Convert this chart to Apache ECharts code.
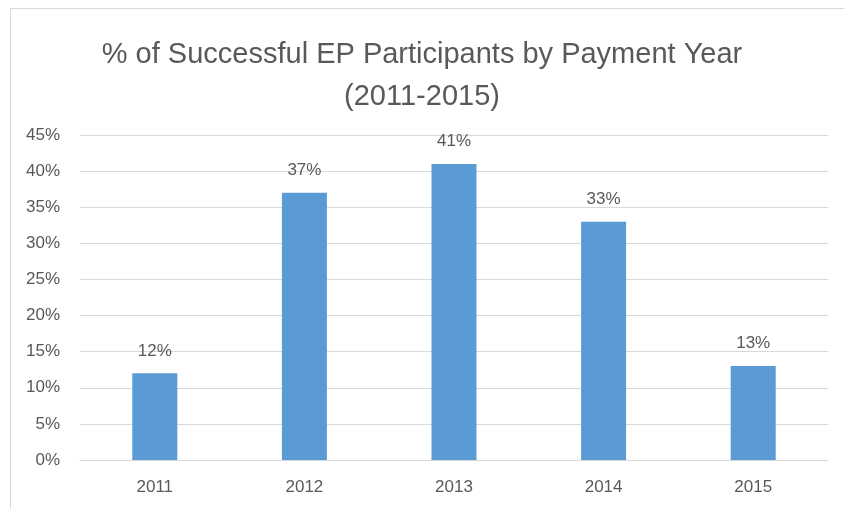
<!DOCTYPE html>
<html><head><meta charset="utf-8">
<script src="https://cdn.jsdelivr.net/npm/echarts@6/dist/echarts.min.js"></script>
<style>html,body{margin:0;padding:0;background:#fff}#c{width:844px;height:509px}
#frame{position:absolute;left:10px;top:8px;width:850px;height:520px;border:1px solid #d9d9d9;pointer-events:none}</style>
</head><body>
<div id="c"></div><div id="frame"></div>
<script>
const categories = ['2011','2012','2013','2014','2015'];
const values = [12, 37, 41, 33, 13];
const titleText = '% of Successful EP Participants by Payment Year\n(2011-2015)';
const chart = echarts.init(document.getElementById('c'));
chart.setOption({
  animation:false,
  title:{text:titleText,left:'center',top:29,textStyle:{fontFamily:'Liberation Sans',fontWeight:'normal',fontSize:29,color:'#595959',lineHeight:42}},
  grid:{left:80,right:16,top:135,bottom:49},
  xAxis:{type:'category',data:categories,axisTick:{show:false},axisLine:{lineStyle:{color:'#d9d9d9'}},
    axisLabel:{color:'#595959',fontSize:17,fontFamily:'Liberation Sans',margin:19}},
  yAxis:{type:'value',min:0,max:45,interval:5,axisLine:{show:false},axisTick:{show:false},
    splitLine:{lineStyle:{color:'#d9d9d9'}},
    axisLabel:{color:'#595959',fontSize:17,fontFamily:'Liberation Sans',margin:20,formatter:v=>v+'%'}},
  series:[{type:'bar',data:values,barWidth:45,itemStyle:{color:'#5b9bd5'},
    label:{show:true,position:'top',distance:14,color:'#595959',fontSize:17,fontFamily:'Liberation Sans',formatter:p=>p.value+'%'}}]
});
</script></body></html>
